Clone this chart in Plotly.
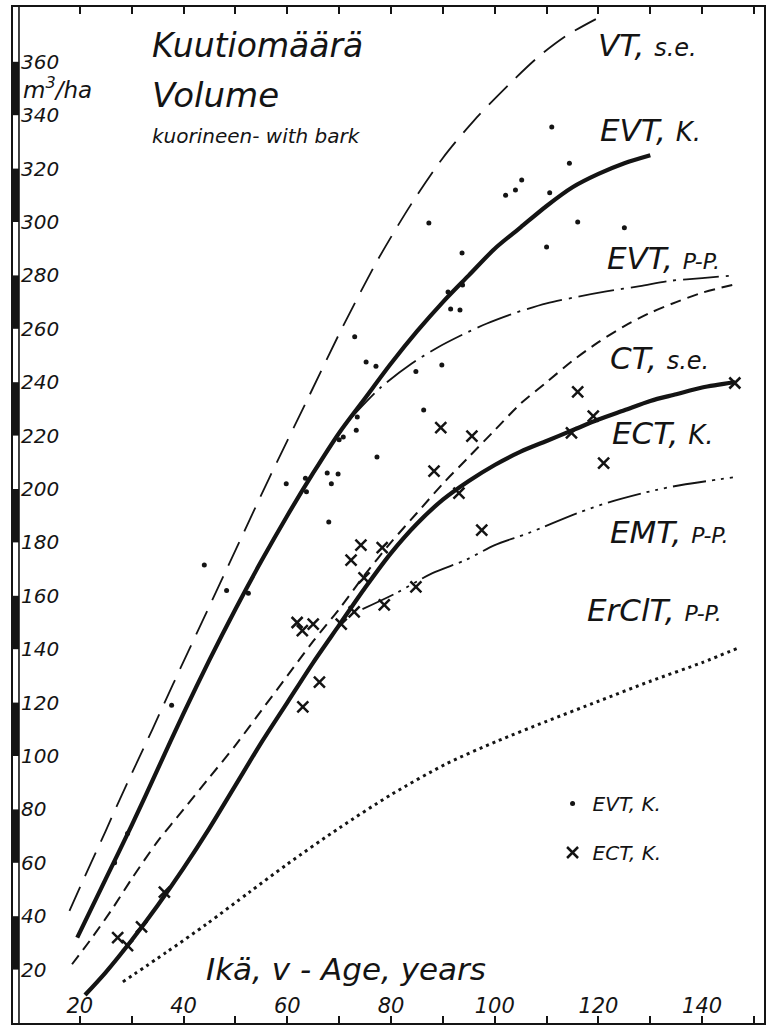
import plotly.graph_objects as go

# ---- growth curves: stand volume with bark (m3/ha) by age (years) ----
vt_age = [18, 21, 25, 28, 34, 38, 44, 50, 56.5, 64, 70.5, 77.5, 84, 90, 96, 103, 108.5, 114, 119.5]
vt_vol = [42, 55, 72, 85, 110, 127, 152, 177, 204, 234, 260, 286, 307, 324, 338, 352, 362, 370, 376]

evt_k_age = [19.5, 25, 30, 35, 40, 45, 50, 55, 60, 65, 70, 75, 80, 85, 90, 95, 100, 105, 110, 115, 120, 125, 130]
evt_k_vol = [32, 54, 74, 95, 116, 136, 155, 173, 190, 206, 221, 234, 247, 259, 270, 280, 290, 298, 306, 313, 318, 322, 325]

evt_pp_age = [72, 78, 84, 89, 94, 98.5, 104, 110, 116, 121.5, 128, 134, 140, 146]
evt_pp_vol = [226, 238, 247, 253, 258, 262, 266, 269.5, 272, 274, 276, 278, 279, 280]

ct_age = [18.5, 22, 26, 30, 35, 40, 45, 50, 55, 60, 65, 70, 75, 80, 85, 90, 95, 100, 105, 110, 115, 120, 125, 130, 135, 140, 147]
ct_vol = [22, 31, 42, 54, 68, 80, 92, 104, 117, 130, 143, 155, 168, 180, 191, 202, 212, 222, 232, 240, 248, 255, 261, 266, 270, 273.5, 277]

ect_k_age = [21, 25, 30, 35, 40, 45, 50, 55, 60, 65, 70, 75, 80, 85, 90, 95, 100, 105, 110, 115, 120, 125, 130, 135, 140, 146.3]
ect_k_vol = [10.5, 19, 31, 44, 58, 73, 89, 105, 120, 135, 149, 163, 176, 187, 196, 203, 209, 214, 218, 222, 226, 229.5, 233, 235.5, 238, 240]

emt_pp_age = [74.5, 81, 88, 94.4, 100, 106.5, 116, 122, 131, 136, 146.5]
emt_pp_vol = [155, 161, 168.5, 173.4, 179, 183.5, 191, 195, 199.6, 201.5, 204.5]

erclt_pp_age = [28.3, 36.7, 44.4, 52.7, 60, 70, 80, 90.6, 100.4, 110, 120, 130, 140, 147]
erclt_pp_vol = [15.4, 26.5, 37, 49, 59.5, 73, 85.5, 97, 105.5, 113, 120.5, 128, 135, 140.5]

# ---- measured sample plots ----
evt_pts_age = [26.7, 29.2, 37.7, 44, 48.3, 52.5, 59.8, 63.5, 63.7, 67.7, 68, 68.5, 69.8, 70, 70.8, 73, 73.3, 73.5,
               75.2, 77.1, 77.3, 84.8, 86.3, 87.3, 89.8, 91, 91.5, 93.3, 93.7, 93.8, 102.1, 104, 105.2, 110,
               110.6, 111, 114.4, 116, 125]
evt_pts_vol = [60, 71, 119, 171.5, 162, 161, 202, 204, 199, 206, 187.6, 202, 205.6, 218.4, 219.5, 257, 222, 227,
               247.6, 246, 212, 244, 229.6, 299.6, 246.4, 273.8, 267.4, 267, 288.4, 276.4, 310, 312, 315.7, 290.6,
               311, 335.6, 322, 300, 297.8]

ect_pts_age = [27.3, 29.2, 31.9, 36.3, 61.9, 62.9, 63, 65, 66.2, 70.4, 72.3, 72.9, 74.2, 74.8, 78.3, 78.7, 84.8,
               88.3, 89.6, 93.1, 95.6, 97.5, 114.8, 116, 119, 121, 146.3]
ect_pts_vol = [32, 29, 36, 49, 150, 147, 118.4, 149.4, 127.7, 149.4, 173.4, 154, 179, 166.7, 178, 156.6, 163.3,
               206.7, 223, 198.5, 219.8, 184.6, 221, 236.4, 227.3, 209.7, 239.7]

x_labels = list(range(20, 141, 20))
x_minor = list(range(30, 151, 20))
y_ticks = list(range(20, 361, 20))

INK = "#141414"
FONT = "DejaVu Sans"

# ---- page geometry ----
W, H = 768, 1025
ML, MR, MT, MB = 13, 2, 7, 2
PX_PER_YEAR = 5.2
PX_PER_M3 = 2.67
X0 = 20 - (80 - ML) / PX_PER_YEAR
X1 = X0 + (W - ML - MR) / PX_PER_YEAR
Y1 = (H - MT - MB) / PX_PER_M3
PLOT_W = W - ML - MR
PLOT_H = H - MT - MB


def px(x):
    return (x - ML) / PLOT_W


def py(y):
    return 1 - (y - MT) / PLOT_H


fig = go.Figure()


def curve(xs, ys, width, dash):
    fig.add_trace(go.Scatter(
        x=xs, y=ys, mode="lines", showlegend=False, hoverinfo="skip",
        line=dict(color=INK, width=width, dash=dash, shape="spline", smoothing=0.8),
    ))


curve(vt_age, vt_vol, 1.8, "26px,12px")
curve(evt_k_age, evt_k_vol, 4.2, "solid")
curve(evt_pp_age, evt_pp_vol, 1.8, "36px,7px,3px,7px")
curve(ct_age, ct_vol, 2.0, "11px,7px")
curve(ect_k_age, ect_k_vol, 4.2, "solid")
curve(emt_pp_age, emt_pp_vol, 1.8, "34px,6px,3px,6px,3px,6px,3px,6px")
curve(erclt_pp_age, erclt_pp_vol, 3.0, "3px,4px")

fig.add_trace(go.Scatter(
    x=evt_pts_age, y=evt_pts_vol, mode="markers", name="EVT, K.", legendgroup="a",
    marker=dict(symbol="circle", size=5, color=INK),
))
fig.add_trace(go.Scatter(
    x=ect_pts_age, y=ect_pts_vol, mode="markers", name="ECT, K.", legendgroup="b",
    marker=dict(symbol="x-thin", size=11, color=INK, line=dict(color=INK, width=2.5)),
))

# ---- ruler on the volume axis: alternating black and white 20 m3 bands ----
RULER_W = 6 / PX_PER_YEAR
shapes = []
for v in range(20, 360, 40):
    shapes.append(dict(type="rect", xref="x", yref="y", x0=X0, x1=X0 + RULER_W, y0=v, y1=v + 20,
                       fillcolor=INK, line=dict(width=0), layer="above"))
shapes.append(dict(type="line", xref="x", yref="paper", x0=X0 + RULER_W, x1=X0 + RULER_W, y0=0, y1=1,
                   line=dict(color=INK, width=1.6), layer="above"))

it = dict(style="italic")


def note(text, x, y, size, anchor="left"):
    return dict(text=text, xref="paper", yref="paper", x=px(x), y=py(y), xanchor=anchor, yanchor="middle",
                showarrow=False, font=dict(family=FONT, size=size, color=INK, **it))


def small(t, s):
    return f"<span style='font-size:{s}px'>{t}</span>"


annotations = [
    note("Kuutiomäärä", 150, 45, 33),
    note("Volume", 150, 95, 34),
    note("kuorineen- with bark", 150, 136, 20),
    note("m<sup>3</sup>/ha", 21, 88, 23),
    note("VT, " + small("s.e.", 24), 598, 45, 31),
    note("EVT, " + small("K.", 26), 600, 130, 31),
    note("EVT, " + small("P-P.", 22), 607, 258, 31),
    note("CT, " + small("s.e.", 24), 610, 358, 31),
    note("ECT, " + small("K.", 26), 612, 433, 31),
    note("EMT, " + small("P-P.", 22), 610, 532, 31),
    note("ErClT, " + small("P-P.", 22), 587, 610, 31),
    note("Ikä, v - Age, years", 205, 969, 31),
]

fig.update_layout(
    width=W, height=H,
    margin=dict(l=ML, r=MR, t=MT, b=MB, pad=0),
    paper_bgcolor="white", plot_bgcolor="white",
    showlegend=True,
    legend=dict(x=px(554), y=py(784), xanchor="left", yanchor="top", bgcolor="rgba(0,0,0,0)",
                font=dict(family=FONT, size=20, color=INK, **it), traceorder="grouped", tracegroupgap=20,
                itemwidth=30),
    shapes=shapes,
    annotations=annotations,
    xaxis=dict(range=[X0, X1], showgrid=False, zeroline=False, showline=True, linecolor=INK, linewidth=2,
               mirror="ticks", ticks="inside", ticklen=7, tickwidth=1.5, tickcolor=INK,
               tickvals=x_labels, ticklabelposition="inside",
               minor=dict(tickvals=x_minor, ticks="inside", ticklen=7, tickwidth=1.5, tickcolor=INK),
               tickfont=dict(family=FONT, size=21, color=INK, **it)),
    yaxis=dict(range=[0, Y1], showgrid=False, zeroline=False, showline=True, linecolor=INK, linewidth=2,
               mirror=True, ticks="", tickvals=y_ticks, ticklabelposition="inside", ticklabelstandoff=9,
               tickfont=dict(family=FONT, size=20, color=INK, **it)),
)

fig.write_html("out.html")
